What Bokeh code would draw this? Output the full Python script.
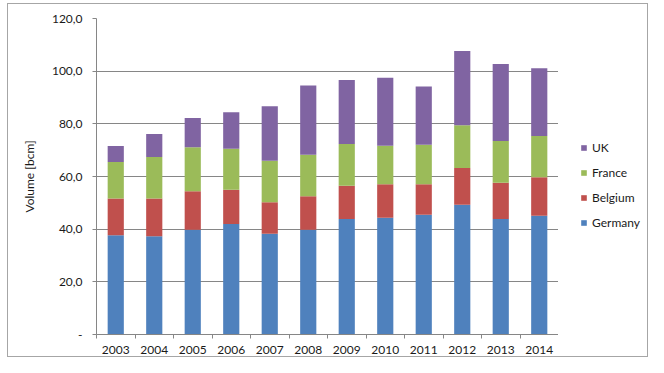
from bokeh.plotting import figure
from bokeh.layouts import row
from bokeh.models import ColumnDataSource, FixedTicker, Range1d, Legend, LegendItem
from bokeh.embed import file_html
from bokeh.resources import INLINE

years = ["2003", "2004", "2005", "2006", "2007", "2008", "2009", "2010", "2011", "2012", "2013", "2014"]
germany = [37.7, 37.3, 39.8, 42.0, 38.3, 39.8, 43.9, 44.3, 45.5, 49.3, 43.9, 45.1]
belgium = [13.9, 14.3, 14.6, 13.0, 11.9, 12.7, 12.6, 12.8, 11.6, 13.9, 13.7, 14.6]
france = [13.9, 15.8, 16.7, 15.5, 15.8, 15.8, 15.8, 14.6, 15.0, 16.3, 15.9, 15.7]
uk = [6.1, 8.7, 11.1, 13.9, 20.7, 26.3, 24.3, 25.8, 22.1, 28.2, 29.2, 25.7]
series = ["Germany", "Belgium", "France", "UK"]
colors = ["#4F81BD", "#C0504D", "#9BBB59", "#8064A2"]
y_ticks = [0, 20, 40, 60, 80, 100, 120]
y_labels = ["-", "20,0", "40,0", "60,0", "80,0", "100,0", "120,0"]

xpos = [i + 0.5 for i in range(len(years))]
source = ColumnDataSource(dict(x=xpos, Germany=germany, Belgium=belgium, France=france, UK=uk))

FONT = "Lato"
GRAY = "#868686"
TEXT = "#1a1a1a"
H = 352

p = figure(width=550, height=H, output_backend="svg", toolbar_location=None,
           x_range=Range1d(0, len(years)), y_range=Range1d(0, 120),
           min_border_left=88, min_border_right=0, min_border_top=14, min_border_bottom=21)
p.outline_line_color = None
p.background_fill_color = "white"
p.border_fill_color = "white"

p.vbar_stack(series, x="x", width=0.42, source=source, color=colors, line_color=None)

# x axis
p.xaxis.ticker = FixedTicker(ticks=xpos, minor_ticks=list(range(len(years) + 1)))
p.xaxis.major_label_overrides = {x: y for x, y in zip(xpos, years)}
p.xaxis.major_tick_out = 0
p.xaxis.major_tick_in = 0
p.xaxis.minor_tick_out = 4
p.xaxis.minor_tick_in = 0
p.xaxis.minor_tick_line_color = GRAY
p.xaxis.major_label_standoff = 7
p.xgrid.visible = False

# y axis
p.yaxis.ticker = FixedTicker(ticks=y_ticks, minor_ticks=[])
p.yaxis.major_label_overrides = {t: l for t, l in zip(y_ticks, y_labels)}
p.yaxis.major_tick_out = 4
p.yaxis.major_tick_in = 0
p.yaxis.minor_tick_out = 0
p.yaxis.major_label_standoff = 10
p.yaxis.axis_label = "Volume [bcm]"
p.yaxis.axis_label_standoff = 12
p.yaxis.axis_label_text_font_style = "normal"
p.ygrid.grid_line_color = GRAY
p.ygrid.ticker = FixedTicker(ticks=y_ticks)

for ax in (p.xaxis, p.yaxis):
    ax.axis_line_color = GRAY
    ax.major_tick_line_color = GRAY
    ax.major_label_text_font = FONT
    ax.major_label_text_font_size = "12px"
    ax.major_label_text_color = TEXT
    ax.axis_label_text_font = FONT
    ax.axis_label_text_font_size = "12px"
    ax.axis_label_text_color = TEXT

# legend panel (separate figure to the right of the plot area); its glyphs lie outside its view
lp = figure(width=89, height=H, output_backend="svg", toolbar_location=None,
            x_axis_location=None, y_axis_location=None,
            x_range=Range1d(-2, -1), y_range=Range1d(0, 1),
            min_border=0, min_border_left=0, min_border_right=0, min_border_top=0, min_border_bottom=0)
lp.outline_line_color = None
lp.grid.visible = False
lp.background_fill_color = "white"
lp.border_fill_color = "white"
proxies = [lp.vbar(x="x", top=name, width=0.42, source=source, fill_color=c, line_color=None)
           for name, c in zip(series, colors)]
items = [LegendItem(label=name, renderers=[r]) for name, r in zip(series, proxies)][::-1]
legend = Legend(items=items, location=(22, 102), padding=0, margin=0,
                glyph_width=7, glyph_height=7, label_standoff=5, spacing=5,
                label_height=20, label_text_font=FONT, label_text_font_size="12px",
                label_text_color=TEXT, border_line_alpha=0, background_fill_alpha=0)
lp.add_layout(legend, "center")

layout = row(p, lp)
layout.styles = {"border": "1px solid #a6a6a6", "margin-left": "7px", "margin-top": "3px"}

open("out.html", "w").write(file_html(layout, INLINE))
